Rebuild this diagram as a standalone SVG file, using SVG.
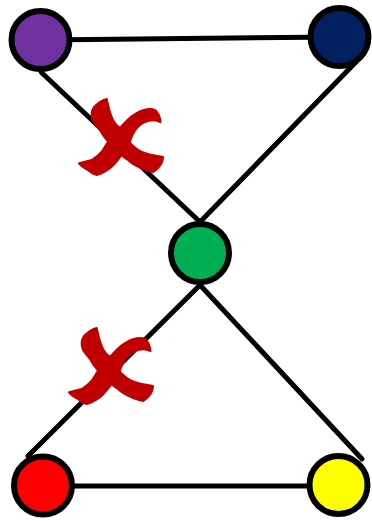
<svg xmlns="http://www.w3.org/2000/svg" xmlns:xlink="http://www.w3.org/1999/xlink" width="372" height="521" viewBox="0 0 372 521">
  <style>
    .edge { stroke: #000; stroke-width: 5; fill: none; stroke-linecap: round; }
    .node { stroke: #000; stroke-width: 6; }
    .cross { fill: #C00000; stroke: #C00000; stroke-width: 2; stroke-linejoin: round; }
  </style>
  <defs>
    <path id="xmark" class="cross" d="M 106.7,99 C 108,104 109,112 113,120 C 115,124 117,126 120,128 C 125,122 130,117 135,114 C 142,110 150,108 155,110 C 158,112 160,117 160.5,122 C 156,120 150,120 145,122 C 140,124 136,128 133,134 C 131,138 130,141 130,143 C 134,147 137,150 142,152 C 149,155 157,156 163,157 C 163,161 161,165 158,168 C 156,170 155,171 153,172 C 149,171 145,170 141.7,168.3 C 136,166 131,163 128,160 C 125,158 123,157 121.7,155 C 118,160 115,164 111.7,166.7 C 108,170 103,173 96.7,175 C 93,174 90,172 88,170 C 84,168 81,166 79,163.3 C 84,162 88,161 91.7,160 C 96,157 99,155 101.7,151.7 C 104,148 106,145 108,141.7 C 104,137 102,134 100,130 C 97,126 94,123 93,121 C 91,116 91,111 94,107 C 98,103 102,100 106.7,99 Z"/>
  </defs>
  <g id="connectors">
    <line class="edge" x1="40.5" y1="40" x2="339.5" y2="37"/>
    <line class="edge" x1="41" y1="72" x2="200" y2="222"/>
    <line class="edge" x1="356" y1="62" x2="200" y2="222"/>
    <line class="edge" x1="200" y1="285" x2="28" y2="456"/>
    <line class="edge" x1="200" y1="285" x2="362" y2="459"/>
    <line class="edge" x1="43" y1="486" x2="338" y2="486"/>
  </g>
  <g id="node-purple"><circle class="node" cx="40.5" cy="40" r="29" fill="#7030A0"/></g>
  <g id="node-navy"><circle class="node" cx="339.5" cy="37" r="29" fill="#002060"/></g>
  <g id="node-green"><circle class="node" cx="200" cy="253" r="29" fill="#00B050"/></g>
  <g id="node-red"><circle class="node" cx="43" cy="485.5" r="29" fill="#FF0000"/></g>
  <g id="node-yellow"><circle class="node" cx="338.5" cy="485" r="29" fill="#FFFF00"/></g>
  <g id="cross-top"><use xlink:href="#xmark"/></g>
  <g id="cross-bottom"><use xlink:href="#xmark" transform="translate(-10,229)"/></g>
</svg>
